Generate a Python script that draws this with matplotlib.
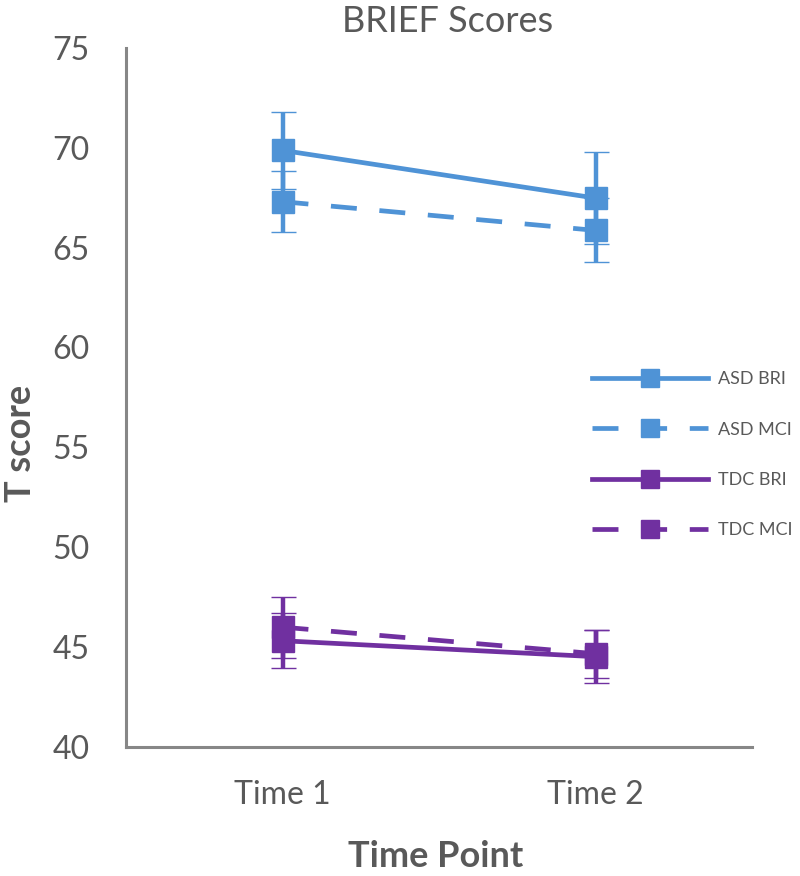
import matplotlib
matplotlib.use('Agg')
import matplotlib.pyplot as plt

# ---- data ----
time_points = ['Time 1', 'Time 2']
series_names = ['ASD BRI', 'ASD MCI', 'TDC BRI', 'TDC MCI']
asd_bri = [69.87, 67.48]
asd_bri_err = [1.94, 2.29]
asd_mci = [67.30, 65.86]
asd_mci_err = [1.52, 1.60]
tdc_bri = [45.30, 44.50]
tdc_bri_err = [1.38, 1.32]
tdc_mci = [45.98, 44.65]
tdc_mci_err = [1.53, 1.20]
y_ticks = [40, 45, 50, 55, 60, 65, 70, 75]

plt.rcParams['font.family'] = ['Lato', 'DejaVu Sans']

BLUE = '#4F93D6'
PURPLE = '#7030A0'
GRAY = '#595959'

fig = plt.figure(figsize=(8, 8.76), dpi=100)
ax = fig.add_axes([0.1575, 0.14783, 0.7825, 0.79738])

x = [1, 2]
series = [
    (asd_bri, asd_bri_err, BLUE, '-'),
    (asd_mci, asd_mci_err, BLUE, (0, (5.5, 4.8))),
    (tdc_bri, tdc_bri_err, PURPLE, '-'),
    (tdc_mci, tdc_mci_err, PURPLE, (0, (5.5, 4.8))),
]
handles = []
for (vals, errs, col, ls), name in zip(series, series_names):
    c = ax.errorbar(x, vals, yerr=errs, color=col, linestyle=ls, linewidth=3.4,
                    marker='s', markersize=16.5, markeredgewidth=1,
                    markerfacecolor=col, markeredgecolor=col,
                    ecolor=col, elinewidth=3.2, capsize=9, capthick=3.4,
                    label=name)
    handles.append(c.lines[0])

ax.set_xlim(0.5, 2.5)
ax.set_ylim(40, 75)
ax.set_xticks(x)
ax.set_xticklabels(time_points)
ax.set_yticks(y_ticks)
ax.tick_params(length=0, labelsize=23, colors=GRAY)
ax.tick_params(axis='x', pad=24)
ax.tick_params(axis='y', pad=26)

for s in ['top', 'right']:
    ax.spines[s].set_visible(False)
for s in ['left', 'bottom']:
    ax.spines[s].set_color('#878787')
    ax.spines[s].set_linewidth(2.2)

ax.set_title('BRIEF Scores', fontsize=26, color=GRAY, x=0.514, y=1.0229,
             va='baseline', pad=0)
ax.set_xlabel('Time Point', fontsize=26, fontweight='bold', color=GRAY, va='baseline')
ax.xaxis.set_label_coords(0.495, -0.172)
ax.set_ylabel('T score', fontsize=26, fontweight='bold', color=GRAY, va='center')
ax.yaxis.set_label_coords(-0.1685, 0.4345)

leg = ax.legend(handles=handles, labels=series_names, loc='upper left',
                bbox_to_anchor=(592 / 800, 1 - 371.5 / 876),
                bbox_transform=fig.transFigure, frameon=False,
                fontsize=13, handlelength=6.4, handletextpad=0.6,
                labelspacing=1.9, borderpad=0, borderaxespad=0,
                markerscale=0.75)
for t in leg.get_texts():
    t.set_color(GRAY)

fig.savefig('out.png', dpi=100)
